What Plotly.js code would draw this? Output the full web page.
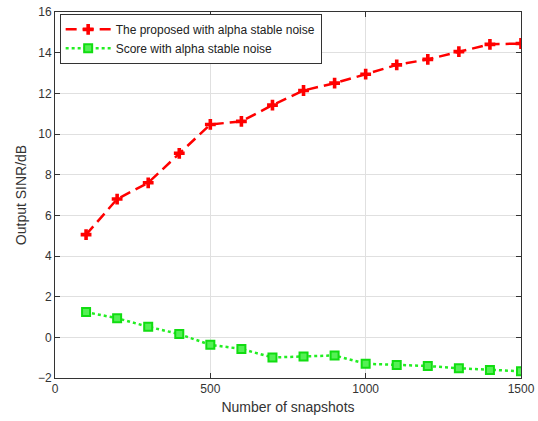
<!DOCTYPE html>
<html>
<head>
<meta charset="utf-8">
<script src="https://cdn.plot.ly/plotly-3.0.1.min.js"></script>
<style>html,body{margin:0;padding:0;background:#fff;}#chart{width:538px;height:421px;}</style>
</head>
<body>
<div id="chart"></div>
<script>
const snapshots = [100,200,300,400,500,600,700,800,900,1000,1100,1200,1300,1400,1500];
const proposedSINR = [5.05,6.8,7.6,9.05,10.47,10.62,11.42,12.14,12.5,12.94,13.4,13.67,14.05,14.41,14.45];
const scoreSINR = [1.24,0.94,0.52,0.16,-0.37,-0.57,-0.99,-0.94,-0.89,-1.3,-1.36,-1.41,-1.52,-1.61,-1.67];
const seriesNames = ['The proposed with alpha stable noise','Score with alpha stable noise'];
const xTicks = [0,500,1000,1500];
const yTicks = [-2,0,2,4,6,8,10,12,14,16];

const traces = [
  {x: snapshots, y: proposedSINR, name: seriesNames[0], type: 'scatter', mode: 'lines+markers',
   line: {color: '#ff0000', width: 2.5, dash: '11px,6px'},
   marker: {symbol: 'cross', size: 9, color: '#ff0000'}},
  {x: snapshots, y: scoreSINR, name: seriesNames[1], type: 'scatter', mode: 'lines+markers',
   line: {color: '#22ee22', width: 2.5, dash: 'dot'},
   marker: {symbol: 'square', size: 8, color: '#55f055', line: {color: '#11dd11', width: 2}}}
];

const axisCommon = {
  showline: true, mirror: 'ticks', linecolor: '#333', linewidth: 1,
  ticks: 'inside', ticklen: 5, tickcolor: '#333',
  showgrid: true, gridcolor: '#e0e0e0', gridwidth: 1, zeroline: false,
  tickfont: {family: 'Liberation Sans, Arial, sans-serif', size: 12, color: '#333'}
};

const layout = {
  width: 538, height: 421,
  margin: {l: 55, r: 17, t: 12, b: 43},
  paper_bgcolor: '#fff', plot_bgcolor: '#fff',
  showlegend: true,
  legend: {x: 0.01, y: 0.995, xanchor: 'left', yanchor: 'top',
    bgcolor: '#fff', bordercolor: '#333', borderwidth: 1,
    font: {family: 'Liberation Sans, Arial, sans-serif', size: 12, color: '#222'},
    tracegroupgap: 0, itemwidth: 45},
  xaxis: Object.assign({}, axisCommon, {range: [0,1500], tickvals: xTicks,
    title: {text: 'Number of snapshots', standoff: 6, font: {family: 'Liberation Sans, Arial, sans-serif', size: 14, color: '#333'}}}),
  yaxis: Object.assign({}, axisCommon, {range: [-2,16], tickvals: yTicks,
    title: {text: 'Output SINR/dB', standoff: 8, font: {family: 'Liberation Sans, Arial, sans-serif', size: 14, color: '#333'}}})
};

Plotly.newPlot('chart', traces, layout, {displayModeBar: false, staticPlot: true});
</script>
</body>
</html>
